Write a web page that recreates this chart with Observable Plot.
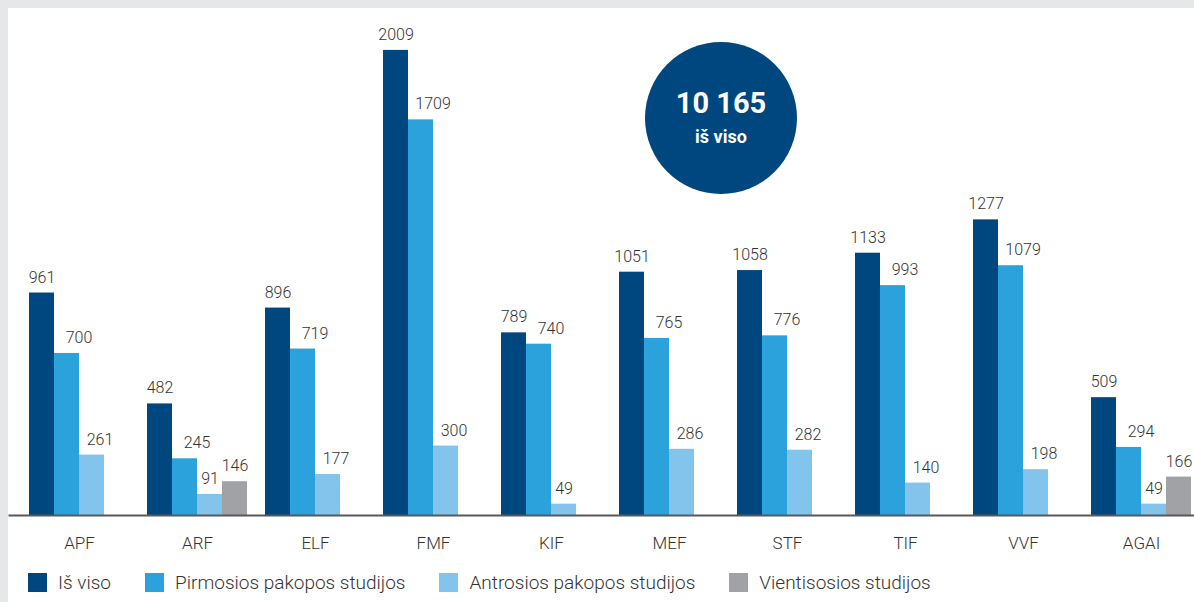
<!DOCTYPE html>
<html>
<head>
<meta charset="utf-8">
<script src="https://cdn.jsdelivr.net/npm/d3@7"></script>
<script src="https://cdn.jsdelivr.net/npm/@observablehq/plot@0.6"></script>
<style>
html, body { margin: 0; padding: 0; background: #e6e7e9; width: 1194px; height: 602px; overflow: hidden; }
#card { position: absolute; left: 8px; top: 8px; width: 1186px; height: 594px; background: #fff;
  font-family: Roboto, "Noto Sans", sans-serif; color: #333; }
#chart svg { display: block; font-family: Roboto, "Noto Sans", sans-serif; font-weight: 300; }
#badge { position: absolute; left: 637px; top: 34px; width: 152px; height: 152px; border-radius: 50%;
  background: #00467f; color: #fff; text-align: center; font-weight: 700; }
#badge .num { position: absolute; left: 0; right: 0; top: 47px; font-size: 29px; line-height: 1; }
#badge .lbl { position: absolute; left: 0; right: 0; top: 86px; font-size: 18px; line-height: 1; }
#legend { display: flex; margin: 8px 0 0 20px; font-size: 19px; font-weight: 300; color: #333; }
#legend .item { display: flex; align-items: center; margin-right: 34px; }
#legend .sw { width: 19px; height: 19px; margin-right: 11px; }
</style>
</head>
<body>
<div id="card">
  <div id="chart"></div>
  <div id="legend"></div>
  <div id="badge"><div class="num"></div><div class="lbl">iš viso</div></div>
</div>
<script>
const faculties = ["APF", "ARF", "ELF", "FMF", "KIF", "MEF", "STF", "TIF", "VVF", "AGAI"];
const series = ["Iš viso", "Pirmosios pakopos studijos", "Antrosios pakopos studijos", "Vientisosios studijos"];
const totalValues = [961, 482, 896, 2009, 789, 1051, 1058, 1133, 1277, 509];
const firstCycle = [700, 245, 719, 1709, 740, 765, 776, 993, 1079, 294];
const secondCycle = [261, 91, 177, 300, 49, 286, 282, 140, 198, 49];
const integrated = [null, 146, null, null, null, null, null, null, null, 166];
const colors = ["#00467f", "#2ca2dd", "#83c4ec", "#a1a2a6"];

const seriesValues = [totalValues, firstCycle, secondCycle, integrated];
const rows = [];
faculties.forEach((fac, i) => {
  seriesValues.forEach((vals, s) => {
    if (vals[i] != null) rows.push({fac, series: series[s], value: vals[i]});
  });
});

// value labels: the reference nudges the labels of the cycle bars to the right
const labelOpts = {fx: "fac", x: "series", y: "value", text: d => String(d.value),
  dy: -10.5, lineAnchor: "bottom", fill: "#333", fontSize: 16};
const labelGroups = [
  {filter: d => d.series === series[0] || d.series === series[3] ||
                (d.series === series[2] && d.value < 100), dx: 0},
  {filter: d => d.series === series[1], dx: 12},
  {filter: d => d.series === series[2] && d.value >= 100, dx: 8}
];

const chart = Plot.plot({
  width: 1186,
  height: 555,
  marginLeft: 20,
  marginRight: 2,
  marginTop: 0,
  marginBottom: 48,
  style: {color: "#333", background: "transparent"},
  fx: {domain: faculties, paddingInner: 16 / 118, paddingOuter: 0, label: null},
  x: {domain: series, padding: 0, axis: null},
  y: {domain: [0, 2190], axis: null},
  color: {domain: series, range: colors},
  marks: [
    Plot.barY(rows, {fx: "fac", x: "series", y: "value", fill: "series"}),
    ...labelGroups.map(g => Plot.text(rows, {...labelOpts, filter: g.filter, dx: g.dx})),
    Plot.frame({anchor: "bottom", facet: "super", stroke: "#58595b", strokeWidth: 2, insetLeft: -19, insetRight: -2}),
    Plot.axisFx({anchor: "bottom", tickSize: 0, tickPadding: 21, fontSize: 17, label: null})
  ]
});
document.getElementById("chart").appendChild(chart);

const fmt = d3.formatLocale({decimal: ",", thousands: " ", grouping: [3], currency: ["", " €"]}).format(",d");
document.querySelector("#badge .num").textContent = fmt(d3.sum(totalValues));

const legend = document.getElementById("legend");
series.forEach((s, i) => {
  const item = document.createElement("div");
  item.className = "item";
  const sw = document.createElement("div");
  sw.className = "sw";
  sw.style.background = colors[i];
  const t = document.createElement("span");
  t.textContent = s;
  item.appendChild(sw);
  item.appendChild(t);
  legend.appendChild(item);
});
</script>
</body>
</html>
